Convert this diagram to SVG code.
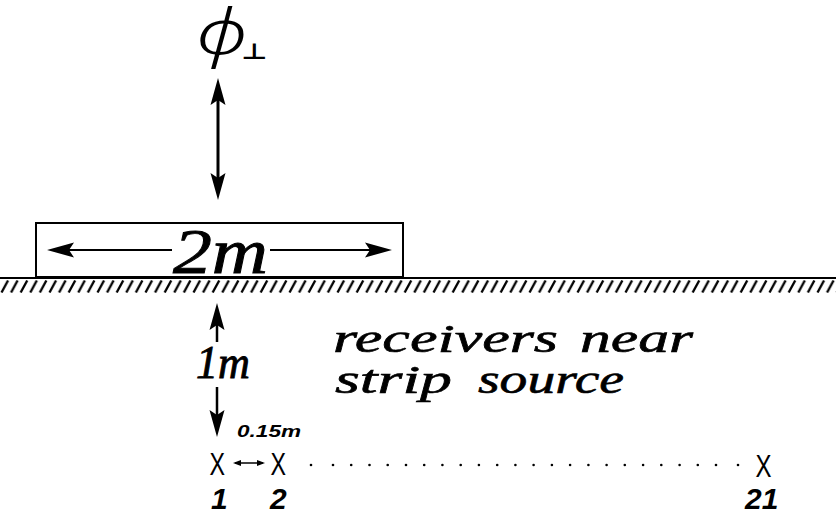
<svg xmlns="http://www.w3.org/2000/svg" width="840" height="516" viewBox="0 0 840 516">
<style>
  .ln{stroke:#000;fill:none}
  .script{font-family:"Liberation Serif","DejaVu Serif",serif;font-style:italic;fill:#000;stroke:#000;stroke-width:0.9}
  .caption{font-family:"Liberation Serif","DejaVu Serif",serif;font-style:italic;fill:#000;stroke:#000;stroke-width:0.6}
  .num{font-family:"Liberation Sans","DejaVu Sans",sans-serif;font-style:italic;font-weight:bold;fill:#000}
  .xm{font-family:"Liberation Sans","DejaVu Sans",sans-serif;font-size:32px;fill:#000}
  .phi{font-family:Roboto,"Noto Sans","DejaVu Sans",sans-serif;font-weight:300;font-style:italic;fill:#000}
</style>
<defs>
  <marker id="big" viewBox="0 0 27 16" refX="17" refY="8" markerWidth="27" markerHeight="16" markerUnits="userSpaceOnUse" orient="auto-start-reverse">
    <path d="M0,0.5 L27,8 L0,15.5 L5,8 z" fill="#000"/>
  </marker>
  <marker id="small" viewBox="0 0 8 6" refX="6" refY="3" markerWidth="8" markerHeight="6" markerUnits="userSpaceOnUse" orient="auto-start-reverse">
    <path d="M0,0 L8,3 L0,6 z" fill="#000"/>
  </marker>
  <pattern id="hatch" x="0" y="280" width="9.6" height="13" patternUnits="userSpaceOnUse">
    <line x1="1.5" y1="12.5" x2="8" y2="0.5" stroke="#000" stroke-width="2.3"/>
  </pattern>
</defs>

<g id="phi-label">
  <text class="phi" x="0" y="0" font-size="62" transform="translate(196,54) scale(1.3,1)">ϕ<tspan dx="-5" dy="5" font-size="22" font-style="normal" font-weight="bold" style="font-family:'DejaVu Sans',sans-serif">⊥</tspan></text>
</g>

<g id="source">
  <rect x="36" y="223" width="367" height="54" class="ln" stroke-width="2"/>
  <text class="script" x="173" y="273" font-size="64" textLength="95" lengthAdjust="spacingAndGlyphs">2m</text>
</g>

<g id="ground">
  <line x1="0" y1="278" x2="836" y2="278" class="ln" stroke-width="2"/>
  <rect x="0" y="280" width="836" height="13" fill="url(#hatch)"/>
</g>

<g id="distance-label">
  <text class="script" x="196" y="378" font-size="46" textLength="54" lengthAdjust="spacingAndGlyphs">1m</text>
</g>

<g id="caption">
  <text class="caption" y="352" font-size="40" lengthAdjust="spacingAndGlyphs"><tspan x="333" textLength="225" lengthAdjust="spacingAndGlyphs">receivers</tspan> <tspan x="580" textLength="113" lengthAdjust="spacingAndGlyphs">near</tspan></text>
  <text class="caption" y="393" font-size="40"><tspan x="335" textLength="117" lengthAdjust="spacingAndGlyphs">strip</tspan> <tspan x="478" textLength="146" lengthAdjust="spacingAndGlyphs">source</tspan></text>
</g>

<g id="spacing-label">
  <text class="num" x="237" y="437" font-size="17" textLength="64" lengthAdjust="spacingAndGlyphs">0.15m</text>
</g>

<g id="receiver-1">
  <text class="xm" x="209.5" y="475" textLength="15.5" lengthAdjust="spacingAndGlyphs">X</text>
  <text class="num" x="211" y="509" font-size="30">1</text>
</g>
<g id="receiver-2">
  <text class="xm" x="270.5" y="475" textLength="15.5" lengthAdjust="spacingAndGlyphs">X</text>
  <text class="num" x="270" y="509" font-size="30">2</text>
</g>
<g id="receiver-21">
  <text class="xm" x="755.5" y="477" textLength="16" lengthAdjust="spacingAndGlyphs">X</text>
  <text class="num" x="745" y="509" font-size="30">21</text>
</g>

<g id="receiver-dots" fill="#000">
  <circle cx="311" cy="465" r="1.3"/>
  <circle cx="333" cy="465" r="1.3"/><circle cx="351.2" cy="465" r="1.3"/><circle cx="369.5" cy="465" r="1.3"/><circle cx="387.7" cy="465" r="1.3"/>
  <circle cx="406" cy="465" r="1.3"/><circle cx="424.2" cy="465" r="1.3"/><circle cx="442.4" cy="465" r="1.3"/><circle cx="460.7" cy="465" r="1.3"/>
  <circle cx="478.9" cy="465" r="1.3"/><circle cx="497.2" cy="465" r="1.3"/><circle cx="515.4" cy="465" r="1.3"/><circle cx="533.6" cy="465" r="1.3"/>
  <circle cx="551.9" cy="465" r="1.3"/><circle cx="570.1" cy="465" r="1.3"/><circle cx="588.4" cy="465" r="1.3"/><circle cx="606.6" cy="465" r="1.3"/>
  <circle cx="624.8" cy="465" r="1.3"/><circle cx="643.1" cy="465" r="1.3"/><circle cx="661.3" cy="465" r="1.3"/><circle cx="679.6" cy="465" r="1.3"/>
  <circle cx="697.8" cy="465" r="1.3"/><circle cx="716" cy="465" r="1.3"/>
  <circle cx="738" cy="465" r="1.3"/>
</g>

<g id="connectors" class="ln" stroke="#000">
  <line x1="218" y1="88" x2="218" y2="190" stroke-width="3" marker-start="url(#big)" marker-end="url(#big)"/>
  <line x1="172" y1="250" x2="57" y2="250" stroke-width="2" marker-end="url(#big)"/>
  <line x1="270" y1="250" x2="382" y2="250" stroke-width="2" marker-end="url(#big)"/>
  <line x1="217" y1="342" x2="217" y2="313" stroke-width="2.5" marker-end="url(#big)"/>
  <line x1="217" y1="387" x2="217" y2="427" stroke-width="2.5" marker-end="url(#big)"/>
  <line x1="235" y1="463" x2="263" y2="463" stroke-width="1.5" marker-start="url(#small)" marker-end="url(#small)"/>
</g>
</svg>
